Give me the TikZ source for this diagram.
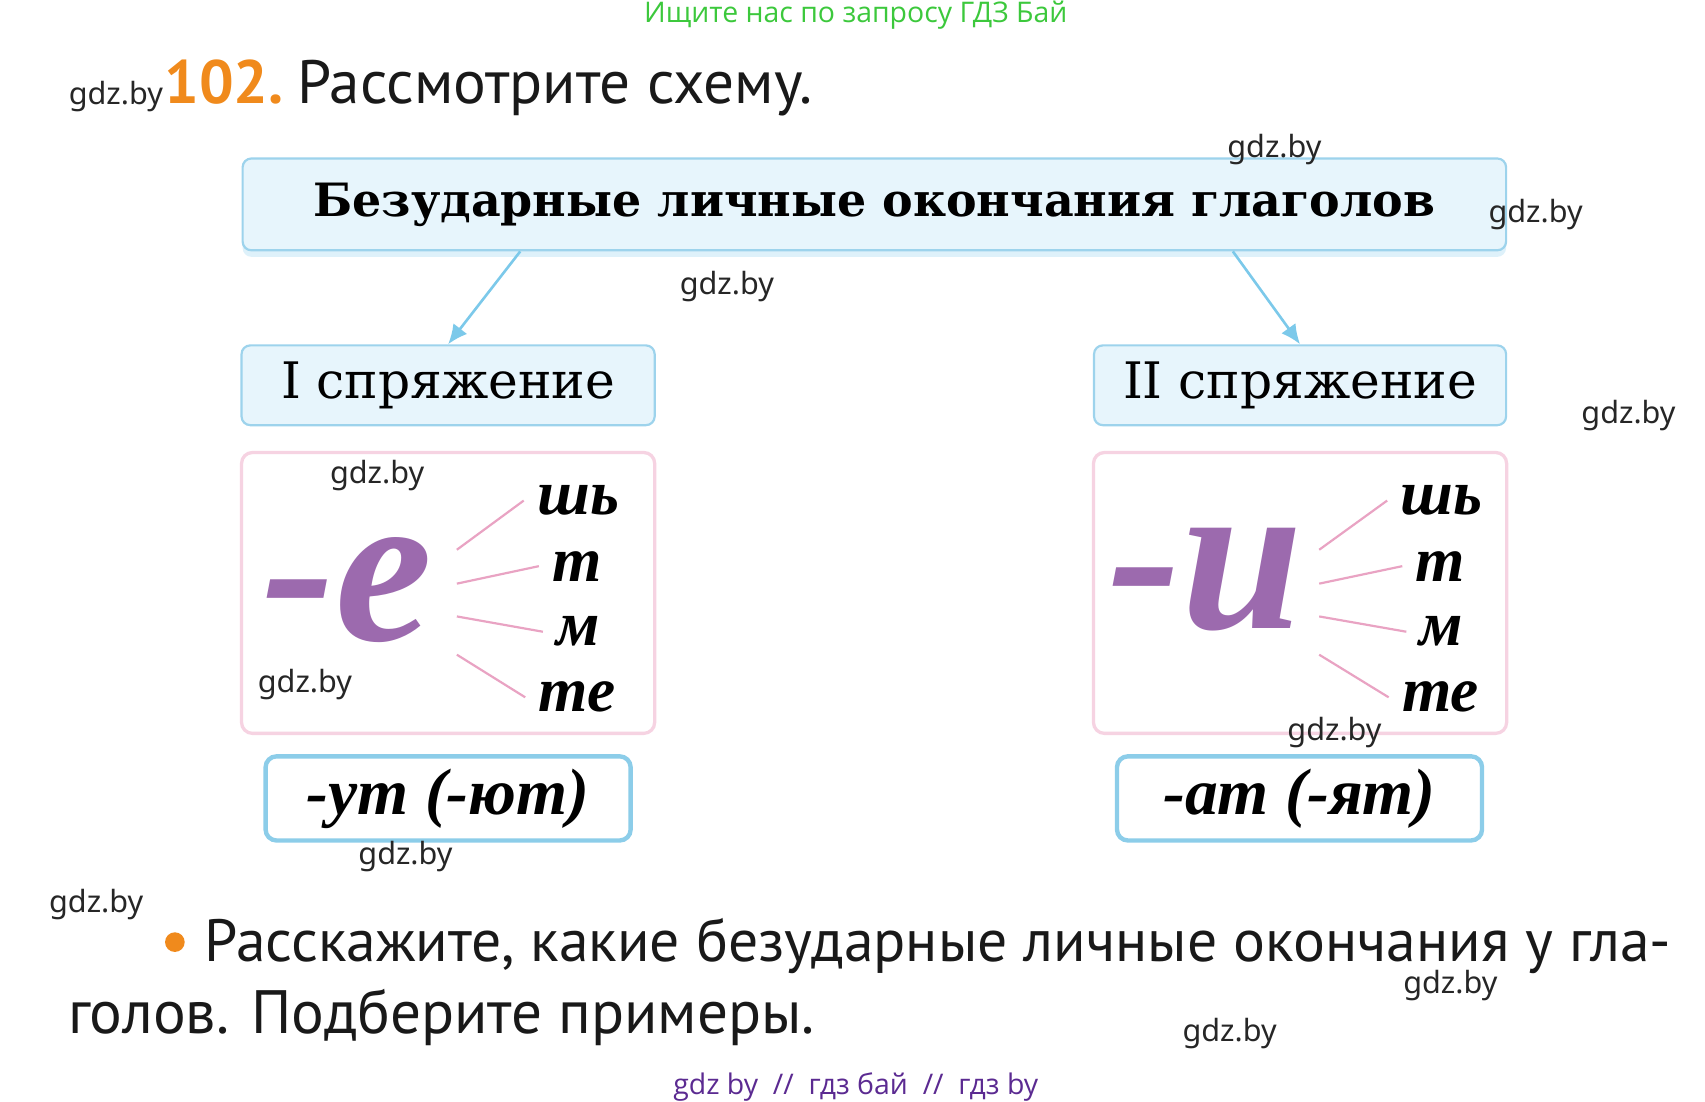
\documentclass[tikz,border=0pt]{standalone}
\usepackage{fontspec}
\setmainfont{PT Sans}
\newfontfamily\opensans{Open Sans}
\newfontfamily\schoolfont{DejaVu Serif}
\newfontfamily\cursivefont{Liberation Serif}
\newfontfamily\markfont{Noto Sans}
\usetikzlibrary{arrows.meta,shadows}
\definecolor{boxblue}{HTML}{E7F5FC}
\definecolor{lineblue}{HTML}{9DD3EC}
\definecolor{arrowblue}{HTML}{7CC9EA}
\definecolor{frameblue}{HTML}{8CCDE9}
\definecolor{framepink}{HTML}{F6D3E2}
\definecolor{rays}{HTML}{E9A3C3}
\definecolor{vowel}{HTML}{9C6AAE}
\definecolor{numorange}{HTML}{F08A1C}
\definecolor{headgreen}{HTML}{3CC83C}
\definecolor{footpurple}{HTML}{5B2A91}
\begin{document}
\begin{tikzpicture}[x=0.5pt,y=-0.5pt]

		\tikzstyle{heading} = [rectangle, draw=lineblue, line width=1pt, fill=boxblue, rounded corners=4pt, inner sep=0pt, align=center]
		
		\tikzstyle{forms} = [rectangle, draw=framepink, line width=1.5pt, fill=white, rounded corners=5pt, inner sep=0pt, minimum width=189pt, minimum height=128.5pt]
		
		\tikzstyle{ends} = [rectangle, draw=frameblue, line width=2pt, fill=white, rounded corners=5pt, inner sep=0pt, minimum width=167pt, minimum height=38.5pt, font=\cursivefont\bfseries\itshape\fontsize{30}{30}\selectfont]
		
		\tikzstyle{links} = [-{Latex[length=9pt,width=8pt]}, arrowblue, line width=1.2pt]
		
		\tikzstyle{rayline} = [rays, line width=1pt]
		
		\tikzstyle{suffix} = [inner sep=6pt, font=\cursivefont\bfseries\itshape\fontsize{29}{29}\selectfont]
		
		\tikzstyle{vowels} = [inner sep=0pt, vowel, font=\cursivefont\bfseries\itshape\fontsize{100}{100}\selectfont]
		
		\tikzstyle{watermark} = [inner sep=0pt, font=\markfont\fontsize{14}{14}\selectfont, black!85]
		
		\tikzstyle{bodytext} = [anchor=base west, inner sep=0pt, black!90, font=\fontsize{28}{28}\selectfont]
		
		\useasboundingbox (0,0) rectangle (1560,1008);
		
		\node[headgreen, font=\opensans\fontsize{13}{13}\selectfont] at (783,14) (search) {Ищите нас по запросу ГДЗ Бай};
		
		\node[bodytext, numorange, font=\bfseries\fontsize{28}{28}\selectfont] at (150,95) (number) {102.};
		\node[bodytext] at (272,95) (task) {Рассмотрите схему.};
		
		% boxes of the scheme
		\node[heading, minimum width=578pt, minimum height=42pt, drop shadow={fill=arrowblue, opacity=0.25, shadow xshift=0pt, shadow yshift=-3pt}, font=\schoolfont\bfseries\fontsize{21}{21}\selectfont] at (800,187) (title) {Безударные личные окончания глаголов};
		
		\node[heading, minimum width=189pt, minimum height=36.5pt, font=\schoolfont\fontsize{23}{23}\selectfont] at (410,352.5) (conjI) {I спряжение};
		\node[heading, minimum width=188.5pt, minimum height=36.5pt, font=\schoolfont\fontsize{23}{23}\selectfont] at (1189.5,352.5) (conjII) {II спряжение};
		
		\draw[links] ([xshift=127.5pt]title.south west) -- (conjI.north);
		\draw[links] ([xshift=-125.5pt]title.south east) -- (conjII.north);
		
		\node[forms] at (410,542.5) (formsI) {};
		\node[forms] at (1189.5,542.5) (formsII) {};
		
		\node[vowels] at (318,540) (vowelI) {-е};
		\node[vowels] at (1103,530) (vowelII) {-и};
		
		\node[suffix] at (529,458) (shI) {шь};
		\node[suffix] at (528,518) (tI) {т};
		\node[suffix] at (529,578) (mI) {м};
		\node[suffix] at (528,638) (teI) {те};
		
		\node[suffix] at (1319,458) (shII) {шь};
		\node[suffix] at (1318,518) (tII) {т};
		\node[suffix] at (1319,578) (mII) {м};
		\node[suffix] at (1318,638) (teII) {те};
		
		\coordinate (rI1) at (418,503);
		\coordinate (rI2) at (418,534);
		\coordinate (rI3) at (418,564);
		\coordinate (rI4) at (418,599);
		\coordinate (rII1) at (1207,503);
		\coordinate (rII2) at (1207,534);
		\coordinate (rII3) at (1207,564);
		\coordinate (rII4) at (1207,599);
		
		\draw[rayline] (rI1) -- (shI.west);
		\draw[rayline] (rI2) -- (tI.west);
		\draw[rayline] (rI3) -- (mI.west);
		\draw[rayline] (rI4) -- (teI.west);
		\draw[rayline] (rII1) -- (shII.west);
		\draw[rayline] (rII2) -- (tII.west);
		\draw[rayline] (rII3) -- (mII.west);
		\draw[rayline] (rII4) -- (teII.west);
		
		\node[ends] at (410,730.5) (plurI) {-ут (-ют)};
		\node[ends] at (1189,730.5) (plurII) {-ат (-ят)};
		
		% question
		\node[circle, fill=numorange, inner sep=0pt, minimum size=9pt] at (160,862) (bullet) {};
		\node[bodytext, font=\fontsize{27.3}{28}\selectfont] at (187,880) (question) {Расскажите, какие безударные личные окончания у гла-};
		\node[bodytext] at (62,946) (question2) {голов. Подберите примеры.};
		
		% watermarks
		\node[watermark] at (106,88) (wm1) {gdz.by};
		\node[watermark] at (1166,137) (wm2) {gdz.by};
		\node[watermark] at (1405,196) (wm3) {gdz.by};
		\node[watermark] at (665,262) (wm4) {gdz.by};
		\node[watermark] at (1490,380) (wm5) {gdz.by};
		\node[watermark] at (345,435) (wm6) {gdz.by};
		\node[watermark] at (279,626) (wm7) {gdz.by};
		\node[watermark] at (1221,670) (wm8) {gdz.by};
		\node[watermark] at (371,784) (wm9) {gdz.by};
		\node[watermark] at (88,828) (wm10) {gdz.by};
		\node[watermark] at (1327,902) (wm11) {gdz.by};
		\node[watermark] at (1125,946) (wm12) {gdz.by};
		
		\node[footpurple, font=\opensans\fontsize{13}{13}\selectfont] at (783,995) (footer) {gdz by \ // \ гдз бай \ // \ гдз by};
	\end{tikzpicture}
\end{document}
